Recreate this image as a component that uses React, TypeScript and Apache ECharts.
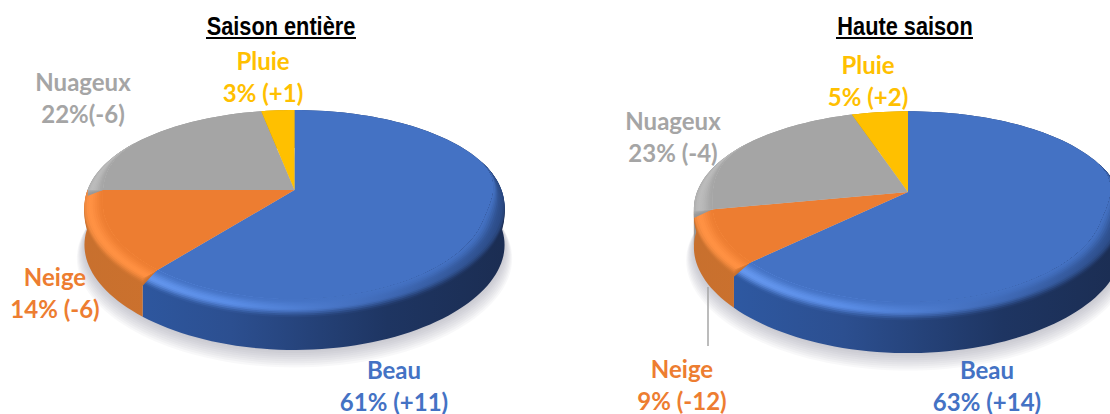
import React, { useEffect, useRef } from "react";
import * as echarts from "echarts";

const categories = ["Beau", "Neige", "Nuageux", "Pluie"];
const seasonValues = [61, 14, 22, 3];
const peakValues = [63, 9, 23, 5];
const seasonLabels = ["61% (+11)", "14% (-6)", "22%(-6)", "3% (+1)"];
const peakLabels = ["63% (+14)", "9% (-12)", "23% (-4)", "5% (+2)"];
const titles = ["Saison entière", "Haute saison"];

const topColors = ["#4472c4", "#ed7d31", "#a5a5a5", "#ffc000"];
const textColors = ["#4472c4", "#ed7d31", "#a5a5a5", "#ffc000"];
const sideStops: string[][] = [
  ["#2f5ca8", "#2c4f90", "#1e3562", "#1b2d52"],
  ["#c8702e", "#cf722d", "#c06020", "#a05018"],
  ["#989898", "#989898", "#7a7a7a", "#6a6a6a"],
  ["#c79500", "#c79500", "#b08400", "#a07800"],
];
const highStops: string[][] = [
  ["#6a9cf2", "#5a8de6", "#3f69b6", "#2c4c88"],
  ["#ff9244", "#ff8c3c", "#e0722a", "#c06020"],
  ["#bcbcbc", "#b6b6b6", "#a5a5a5", "#909090"],
  ["#ffc000", "#ffc000", "#ffc000", "#ffc000"],
];

type Geo = { cx: number; cy: number; a: number; b: number; ky: number; kx: number; d: number };
const season: Geo = { cx: 294.5, cy: 190, a: 96.6, b: 207, ky: 0.208, kx: 0.17, d: 38 };
const peak: Geo = { cx: 908, cy: 192, a: 97.5, b: 211, ky: 0.208, kx: 0.17, d: 38 };

const rad = Math.PI / 180;
function proj(g: Geo, deg: number, r: number, dy = 0): number[] {
  const u = r * Math.sin(deg * rad);
  const v = r * Math.cos(deg * rad);
  return [g.cx + (g.b * u) / (1 + g.kx * v), g.cy - (g.a * v) / (1 + g.ky * v) + dy];
}
function arc(
  g: Geo,
  t0: number,
  t1: number,
  r: (t: number) => number,
  dy: (t: number) => number = () => 0,
): number[][] {
  const n = Math.max(2, Math.ceil(Math.abs(t1 - t0) / 2));
  const pts: number[][] = [];
  for (let i = 0; i <= n; i++) {
    const t = t0 + ((t1 - t0) * i) / n;
    pts.push(proj(g, t, r(t), dy(t)));
  }
  return pts;
}
function bounds(values: number[], i: number): number[] {
  const before = values.slice(0, i).reduce((s, v) => s + v, 0);
  const total = values.reduce((s, v) => s + v, 0);
  return [(before / total) * 360, ((before + values[i]) / total) * 360];
}
const one = () => 1;
function hGrad(g: Geo, stops: string[]) {
  const left = g.cx - g.b * 1.02;
  const right = g.cx + g.b * 1.02;
  return new echarts.graphic.LinearGradient(
    left, 0, right, 0,
    [
      { offset: 0, color: stops[0] },
      { offset: 0.35, color: stops[1] },
      { offset: 0.72, color: stops[2] },
      { offset: 1, color: stops[3] },
    ],
    true,
  );
}
function hex(c: string) {
  return [1, 3, 5].map((p) => parseInt(c.slice(p, p + 2), 16));
}
function mix(c1: string, c2: string, t: number) {
  const a = hex(c1);
  const b = hex(c2);
  return "rgb(" + a.map((v, i) => Math.round(v + (b[i] - v) * t)).join(",") + ")";
}
function smooth(x: number) {
  const c = Math.min(1, Math.max(0, x));
  return c * c * (3 - 2 * c);
}
const rimFrom = 72;
const rimTo = 305;
const rimWidth = 0.085;
const wallFade = 7;
const layerCount = 14;
const shadowLayers = 9;
function rimWeight(t: number) {
  return smooth((t - rimFrom) / 38) * smooth((rimTo - t) / 45);
}

function sideItem(g: Geo, values: number[]) {
  return (params: any) => {
    const i = params.dataIndex;
    const [t0, t1] = bounds(values, i);
    const upper = arc(g, t0, t1, one);
    const lower = arc(g, t0, t1, one, () => g.d).reverse();
    return {
      type: "polygon",
      shape: { points: upper.concat(lower) },
      style: { fill: hGrad(g, sideStops[i]) },
    };
  };
}
function topItem(g: Geo, values: number[]) {
  return (params: any) => {
    const i = params.dataIndex;
    const [t0, t1] = bounds(values, i);
    const children: any[] = [
      {
        type: "polygon",
        shape: { points: [[g.cx, g.cy]].concat(arc(g, t0, t1, one)) },
        style: { fill: topColors[i] },
      },
    ];
    const s0 = Math.max(t0, rimFrom);
    const s1 = Math.min(t1, rimTo);
    if (s1 > s0) {
      const inner = arc(g, s0, s1, (t) => 1 - rimWidth * rimWeight(t)).reverse();
      for (let j = 0; j < layerCount; j++) {
        const s = j / (layerCount - 1);
        const wallPart = Math.max(0, 1 - s / 0.3);
        const facePart = Math.max(0, (s - 0.3) / 0.7);
        const outer = arc(
          g,
          s0,
          s1,
          (t) => 1 - rimWidth * rimWeight(t) * facePart,
          (t) => wallFade * wallPart * rimWeight(t),
        );
        const stops = sideStops[i].map((side, k) => {
          const high = highStops[i][k];
          return s < 0.45
            ? mix(side, high, smooth(s / 0.45))
            : mix(high, topColors[i], smooth((s - 0.45) / 0.55));
        });
        children.push({
          type: "polygon",
          shape: { points: outer.concat(inner) },
          style: { fill: hGrad(g, stops) },
        });
      }
    }
    return { type: "group", children };
  };
}
function shadowItem(g: Geo) {
  return () => {
    const children: any[] = [];
    for (let j = 0; j < shadowLayers; j++) {
      const e = 1 - j / (shadowLayers - 1);
      children.push({
        type: "polygon",
        shape: { points: arc(g, 0, 360, () => 1 + 0.035 * e, () => g.d + 1 + 11 * e) },
        style: { fill: "rgba(120,120,140,0.055)" },
      });
    }
    return { type: "group", children };
  };
}
function pieSeries(g: Geo, values: number[]): any[] {
  const data = values.map((v) => [v]);
  const base = { type: "custom", coordinateSystem: "none", silent: true };
  return [
    { ...base, name: "ombre", data: [[1]], z: 1, renderItem: shadowItem(g) },
    { ...base, name: "côté", data, z: 2, renderItem: sideItem(g, values) },
    { ...base, name: "dessus", data, z: 3, renderItem: topItem(g, values) },
  ];
}
const labelFont = { fontFamily: "Lato", fontWeight: "bold", fontSize: 24, lineHeight: 32, align: "center", verticalAlign: "middle" };
function label(x: number, y: number, i: number, second: string) {
  return {
    type: "text",
    x,
    y,
    z: 10,
    style: { ...labelFont, text: categories[i] + "\n" + second, fill: textColors[i] },
  };
}
function title(x: number, text: string, lineFrom: number, lineTo: number) {
  return [
    {
      type: "text",
      x,
      y: 26,
      scaleX: 0.87,
      z: 10,
      style: {
        text,
        fontFamily: "Liberation Sans",
        fontWeight: "bold",
        fontSize: 25,
        fill: "#000000",
        align: "center",
        verticalAlign: "middle",
      },
    },
    {
      type: "rect",
      z: 10,
      shape: { x: lineFrom, y: 37, width: lineTo - lineFrom, height: 2 },
      style: { fill: "#000000" },
    },
  ];
}

export default function App() {
  const ref = useRef<HTMLDivElement>(null);
  useEffect(() => {
    const chart = echarts.init(ref.current!, undefined, { renderer: "svg" });
    chart.setOption({
      animation: false,
      backgroundColor: "#ffffff",
      series: [...pieSeries(season, seasonValues), ...pieSeries(peak, peakValues)],
      graphic: [
        ...title(281, titles[0], 206, 356),
        ...title(905, titles[1], 836, 973),
        label(394, 385, 0, seasonLabels[0]),
        label(55, 292, 1, seasonLabels[1]),
        label(83, 97, 2, seasonLabels[2]),
        label(263, 76, 3, seasonLabels[3]),
        label(987, 385, 0, peakLabels[0]),
        label(682, 384, 1, peakLabels[1]),
        label(673, 136, 2, peakLabels[2]),
        label(868, 80, 3, peakLabels[3]),
        {
          type: "line",
          z: 10,
          shape: { x1: 708, y1: 287, x2: 708, y2: 346 },
          style: { stroke: "#a6a6a6", lineWidth: 1.5 },
        },
      ],
    });
    return () => chart.dispose();
  }, []);
  return <div ref={ref} style={{ position: "fixed", left: 0, top: 0, width: 1110, height: 414 }} />;
}
